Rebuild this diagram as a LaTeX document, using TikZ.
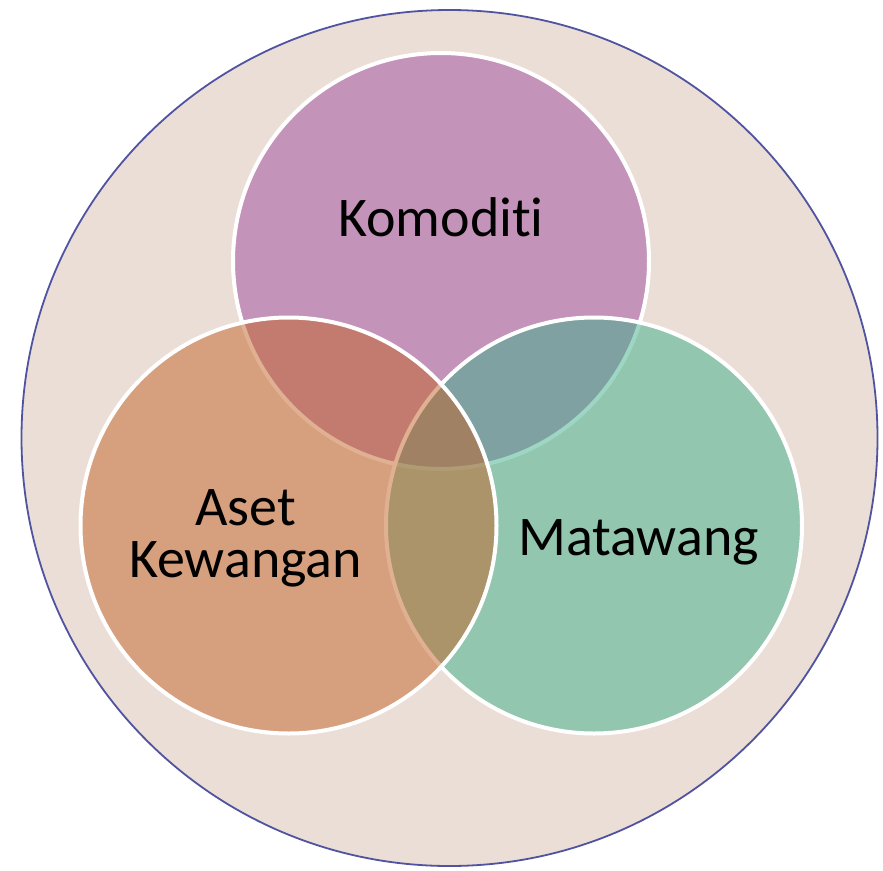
\documentclass[tikz,border=0pt]{standalone}
\usepackage{fontspec}
\setmainfont[Ligatures=NoCommon]{Carlito}
\definecolor{bgbeige}{RGB}{235,222,214}
\definecolor{outerline}{RGB}{80,84,160}
\definecolor{ctop}{RGB}{159,74,158}
\definecolor{cleft}{RGB}{195,98,38}
\definecolor{cright}{RGB}{61,176,138}
\tikzset{
  vennset/.style={circle, inner sep=0pt, minimum size=416pt, draw=white, line width=4pt, fill opacity=0.5, draw opacity=1},
  lbl/.style={text=black, font=\fontsize{56}{52}\selectfont, align=center, inner sep=0pt}
}
\begin{document}
\begin{tikzpicture}[x=1pt,y=-1pt]
  \fill[white] (0,0) rectangle (883,870);
  \useasboundingbox (0,0) rectangle (883,870);
  \node (outer) [circle, inner sep=0pt, minimum size=856pt, fill=bgbeige, draw=outerline, line width=1.8pt] at (449.5,438) {};
  \node (komoditi) [vennset, fill=ctop] at (441,261) {};
  \node (matawang) [vennset, fill=cright] at (594,525.5) {};
  \node (aset) [vennset, fill=cleft] at (288.5,525.5) {};
  \node (lk) [lbl, anchor=base] at (441,236) {Komoditi};
  \node (la) [lbl, anchor=base] at (245.5,525) {Aset};
  \node (lkw) [lbl, anchor=base] at (245.5,577) {Kewangan};
  \node (lm) [lbl, anchor=base] at (638.5,555) {Matawang};
\end{tikzpicture}
\end{document}
